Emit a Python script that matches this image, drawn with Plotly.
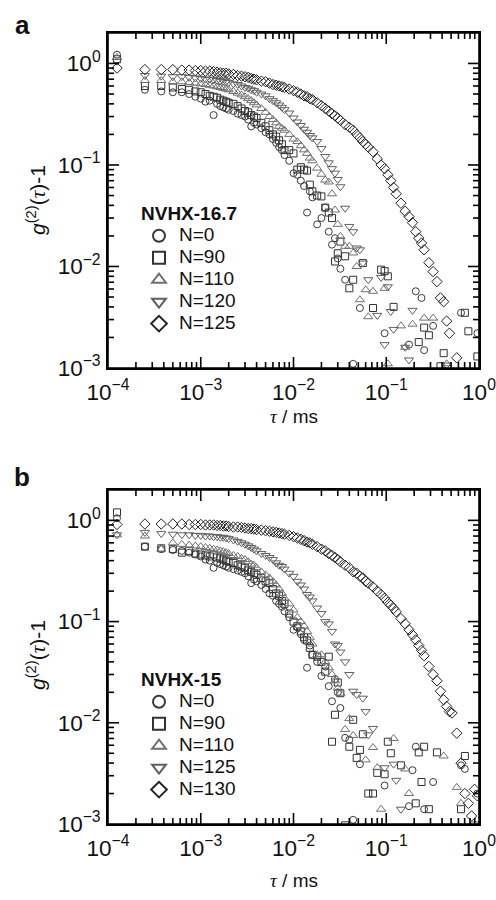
import plotly.graph_objects as go

# ---------------- data ----------------
tau = [
    0.000125, 0.00025, 0.000375, 0.0005, 0.000625, 0.00075, 0.000875, 0.001,
    0.001125, 0.00125, 0.001375, 0.0015, 0.001625, 0.00175, 0.001875, 0.002,
    0.00225, 0.0025, 0.00275, 0.003, 0.00325, 0.0035, 0.00375, 0.004,
    0.0045, 0.005, 0.0055, 0.006, 0.0065, 0.007, 0.0075, 0.008,
    0.009, 0.010, 0.011, 0.012, 0.013, 0.014, 0.015, 0.016,
    0.018, 0.020, 0.022, 0.024, 0.026, 0.028, 0.030, 0.032,
    0.036, 0.040, 0.044, 0.048, 0.052, 0.056, 0.060, 0.064,
    0.072, 0.080, 0.088, 0.096, 0.104, 0.112, 0.120, 0.128,
    0.144, 0.160, 0.176, 0.192, 0.208, 0.224, 0.240, 0.256,
    0.288, 0.320, 0.352, 0.384, 0.416, 0.448, 0.480, 0.512,
    0.576, 0.640, 0.704, 0.768, 0.832, 0.896, 0.960,
]
N = None

# panel a : NVHX-16.7
a_n0 = [
    1.22, 0.55, 0.53, 0.52, 0.52, 0.50, 0.47, 0.45, 0.42, 0.43, 0.31, 0.40, 0.38, 0.37, 0.36, 0.35,
    0.34, 0.32, 0.31, 0.30, 0.28, 0.24, 0.26, 0.25,
    0.23, 0.21, 0.20, 0.18, 0.165, 0.15, 0.14, 0.125,
    0.11, 0.083, 0.08, 0.07, 0.062, 0.034, 0.055, 0.048,
    0.026, 0.030, 0.038, 0.022, 0.0164, 0.019, 0.012, 0.0095,
    0.0074, N, 0.0011, N, 0.0039, N, N, N,
    N, N, N, 0.0022, N, N, N, N,
    N, N, 0.0017, N, 0.0057, N, 0.0049, 0.0015,
    N, 0.0026, N, N, N, N, N, N,
    N, 0.0035, N, N, N, N, 0.0022,
]
a_n90 = [
    1.10, 0.60, 0.60, 0.58, 0.56, 0.55, 0.53, 0.52, 0.50, 0.48, 0.47, 0.46, 0.44, 0.43, 0.42, 0.41,
    0.40, 0.38, 0.36, 0.34, 0.33, 0.31, 0.30, 0.29,
    0.26, 0.24, 0.22, 0.20, 0.19, 0.175, 0.16, 0.14,
    0.14, 0.13, 0.09, 0.095, 0.09, 0.088, 0.064, 0.055,
    0.05, 0.049, 0.038, 0.034, 0.030, 0.0112, 0.0135, 0.0176,
    0.0126, 0.0061, 0.0074, N, N, 0.0108, N, N,
    0.0039, N, 0.0093, 0.0090, 0.0080, N, 0.0040, N,
    N, N, N, N, N, 0.0018, N, 0.0025,
    0.0021, N, N, 0.00104, 0.0014, N, N, N,
    N, N, 0.0035, 0.0023, N, N, 0.0013,
]
a_n110 = [
    1.15, 0.68, 0.68, 0.66, 0.66, 0.65, 0.64, 0.63, 0.62, 0.61, 0.60, 0.59, 0.58, 0.57, 0.56, 0.55,
    0.53, 0.51, 0.49, 0.47, 0.45, 0.43, 0.41, 0.39,
    0.36, 0.33, 0.30, 0.28, 0.26, 0.24, 0.23, 0.22,
    0.20, 0.18, 0.17, 0.155, 0.141, 0.13, 0.117, 0.11,
    0.093, 0.081, 0.071, 0.068, 0.052, 0.036, 0.026, 0.0198,
    0.0158, 0.0158, 0.0136, 0.010, 0.0047, N, 0.0059, 0.0032,
    0.0057, N, N, 0.0061, 0.0011, N, N, N,
    0.0026, 0.0016, N, 0.0027, N, N, N, 0.0031,
    N, 0.0031, N, N, N, 0.0011, N, N,
    N, N, N, N, N, N, N,
]
a_n120 = [
    1.05, 0.76, 0.75, 0.74, 0.74, 0.73, 0.72, 0.71, 0.70, 0.70, 0.69, 0.68, 0.67, 0.67, 0.66, 0.65,
    0.63, 0.62, 0.60, 0.58, 0.57, 0.55, 0.54, 0.52,
    0.50, 0.48, 0.45, 0.43, 0.41, 0.39, 0.37, 0.35,
    0.325, 0.29, 0.265, 0.245, 0.225, 0.21, 0.195, 0.185,
    0.17, 0.145, 0.121, 0.105, 0.092, 0.083, 0.072, 0.061,
    0.0375, 0.0248, 0.022, 0.0152, 0.0146, 0.0108, N, 0.0074,
    N, 0.0033, 0.0078, 0.0017, 0.0063, 0.0036, 0.0024, N,
    N, 0.0016, 0.0012, 0.0037, N, N, N, N,
    N, N, N, N, N, 0.00107, N, N,
    N, N, N, N, N, N, N,
]
a_n125 = [
    0.90, 0.87, 0.87, 0.87, 0.86, 0.86, 0.85, 0.85, 0.84, 0.84, 0.83, 0.82, 0.81, 0.80, 0.80, 0.79,
    0.78, 0.76, 0.75, 0.74, 0.73, 0.71, 0.70, 0.69,
    0.67, 0.66, 0.64, 0.62, 0.61, 0.60, 0.59, 0.58,
    0.56, 0.54, 0.52, 0.50, 0.48, 0.47, 0.45, 0.44,
    0.41, 0.385, 0.36, 0.34, 0.32, 0.305, 0.29, 0.275,
    0.25, 0.235, 0.22, 0.20, 0.185, 0.17, 0.16, 0.15,
    0.135, 0.115, 0.10, 0.092, 0.08, 0.07, 0.06, 0.052,
    0.042, 0.035, 0.031, 0.027, 0.022, 0.019, 0.017, 0.0146,
    0.0109, 0.0089, 0.0071, 0.0049, 0.0045, 0.0029, 0.0022, N,
    0.00126, N, N, N, N, N, N,
]

# panel b : NVHX-15
b_n0 = [
    1.05, 0.55, 0.52, 0.51, 0.50, 0.48, 0.46, 0.44, 0.41, 0.40, 0.34, 0.38, 0.37, 0.36, 0.35, 0.34,
    0.33, 0.32, 0.31, 0.30, 0.28, 0.24, 0.26, 0.25,
    0.23, 0.21, 0.19, 0.18, 0.16, 0.15, 0.14, 0.126,
    0.11, 0.083, 0.088, 0.075, 0.066, 0.035, 0.058, 0.047,
    0.040, 0.029, 0.036, 0.023, 0.0163, 0.027, 0.020, 0.014,
    0.0071, 0.0068, 0.0011, N, 0.0039, N, N, N,
    N, N, N, 0.0024, N, N, N, N,
    N, N, 0.0015, 0.0034, 0.0058, N, N, 0.0014,
    N, 0.0026, N, N, N, N, N, N,
    N, 0.0038, 0.0035, N, N, N, 0.0020,
]
b_n90 = [
    1.20, 0.55, 0.53, 0.52, 0.48, 0.50, 0.47, 0.46, 0.45, 0.44, 0.46, 0.43, 0.42, 0.41, 0.40, 0.39,
    0.38, 0.36, 0.35, 0.34, 0.32, 0.31, 0.30, 0.29,
    0.27, 0.25, 0.24, 0.21, 0.19, 0.18, 0.16, 0.15,
    0.12, 0.10, 0.09, 0.08, 0.07, 0.065, 0.055, 0.047,
    0.045, 0.040, 0.032, 0.045, 0.0065, 0.012, 0.025, 0.0196,
    0.00097, 0.0058, 0.0107, 0.0045, 0.0054, 0.0077, N, 0.0020,
    0.0020, 0.0032, N, 0.0031, 0.0065, 0.0050, N, N,
    0.0038, N, N, N, 0.0016, 0.0051, 0.0026, 0.0058,
    0.0014, N, 0.0051, N, N, N, N, N,
    N, 0.0014, 0.0047, N, N, N, N,
]
b_n110 = [
    0.72, 0.70, 0.52, 0.60, 0.58, 0.57, 0.56, 0.55, 0.54, 0.53, 0.52, 0.51, 0.50, 0.49, 0.48, 0.47,
    0.45, 0.44, 0.42, 0.41, 0.39, 0.37, 0.36, 0.34,
    0.31, 0.29, 0.27, 0.25, 0.23, 0.21, 0.19, 0.17,
    0.15, 0.13, 0.11, 0.10, 0.09, 0.08, 0.07, 0.06,
    0.047, 0.047, 0.040, 0.035, 0.030, 0.026, 0.022, 0.0196,
    0.0086, 0.011, 0.0075, N, N, N, 0.0043, N,
    0.0057, 0.0036, 0.0014, N, N, N, 0.0070, N,
    N, 0.0035, 0.0020, N, N, N, N, N,
    N, N, N, N, 0.0047, N, N, N,
    0.0023, 0.0016, N, N, N, N, N,
]
b_n125 = [
    0.72, 0.76, 0.74, 0.73, 0.72, 0.72, 0.71, 0.71, 0.70, 0.70, 0.69, 0.69, 0.68, 0.68, 0.67, 0.66,
    0.64, 0.62, 0.60, 0.58, 0.56, 0.54, 0.52, 0.50,
    0.47, 0.45, 0.43, 0.41, 0.38, 0.36, 0.35, 0.33,
    0.30, 0.28, 0.25, 0.23, 0.21, 0.185, 0.175, 0.16,
    0.136, 0.12, 0.10, 0.095, 0.08, 0.06, 0.058, 0.050,
    0.040, 0.030, 0.0205, 0.019, N, 0.0175, 0.0129, 0.0076,
    0.0088, N, N, 0.0036, N, N, 0.0039, 0.0027,
    0.0014, N, N, N, N, N, N, N,
    N, N, N, N, N, N, N, N,
    N, N, N, N, N, 0.0010, N,
]
b_n130 = [
    0.91, 0.92, 0.92, 0.92, 0.92, 0.91, 0.91, 0.91, 0.90, 0.90, 0.90, 0.89, 0.89, 0.88, 0.88, 0.87,
    0.86, 0.86, 0.85, 0.84, 0.83, 0.83, 0.82, 0.81,
    0.80, 0.79, 0.78, 0.77, 0.76, 0.75, 0.74, 0.73,
    0.71, 0.69, 0.67, 0.65, 0.63, 0.61, 0.60, 0.58,
    0.55, 0.52, 0.50, 0.47, 0.45, 0.43, 0.41, 0.39,
    0.36, 0.34, 0.31, 0.30, 0.28, 0.27, 0.25, 0.24,
    0.22, 0.20, 0.185, 0.17, 0.155, 0.145, 0.135, 0.125,
    0.107, 0.095, 0.083, 0.074, 0.066, 0.058, 0.052, 0.046,
    0.036, 0.030, 0.026, 0.0205, 0.0169, 0.0145, 0.0129, 0.0125,
    0.0079, 0.0040, 0.0020, 0.0016, 0.0012, 0.0022, 0.0019,
]

labels_a = ["N=0", "N=90", "N=110", "N=120", "N=125"]
labels_b = ["N=0", "N=90", "N=110", "N=125", "N=130"]
legend_title_a = "NVHX-16.7"
legend_title_b = "NVHX-15"
# log-axis tick label text (plotly writes 10^0 as "1", so it is aliased)
tick_alias = {"1": "10<sup>0</sup>"}
x_major = [1e-4, 1e-3, 1e-2, 1e-1, 1e0]
y_major = [1e-3, 1e-2, 1e-1, 1e0]
minor_mult = [2, 3, 4, 5, 6, 7, 8, 9]
x_decades = [1e-4, 1e-3, 1e-2, 1e-1]
y_decades = [1e-3, 1e-2, 1e-1]

# ---------------- styling ----------------
symbols = ["circle-open", "square-open", "triangle-up-open", "triangle-down-open", "diamond-open"]
colors = ["#3a3a3a", "#333333", "#707070", "#606060", "#222222"]
sizes = [7, 7, 8, 8, 8]
FONT = "Arial, Liberation Sans, Helvetica, sans-serif"
MAJ, MIN, TW = 11, 6, 1.6

W, H = 496, 900
xdom = [108 / W, 479 / W]
ydom_a = [1 - 368 / H, 1 - 33 / H]
ydom_b = [1 - 824 / H, 1 - 490 / H]

fig = go.Figure()
for i, (lab, ys) in enumerate(zip(labels_a, [a_n0, a_n90, a_n110, a_n120, a_n125])):
    fig.add_trace(go.Scatter(
        x=tau, y=ys, mode="markers", name='<span style="font-size:19px">%s</span>' % lab,
        marker=dict(symbol=symbols[i], size=sizes[i], color=colors[i], line=dict(width=1, color=colors[i])),
        xaxis="x", yaxis="y", legend="legend", showlegend=True))
for i, (lab, ys) in enumerate(zip(labels_b, [b_n0, b_n90, b_n110, b_n125, b_n130])):
    fig.add_trace(go.Scatter(
        x=tau, y=ys, mode="markers", name='<span style="font-size:19px">%s</span>' % lab,
        marker=dict(symbol=symbols[i], size=sizes[i], color=colors[i], line=dict(width=1, color=colors[i])),
        xaxis="x2", yaxis="y2", legend="legend2", showlegend=True))

def common_axis():
    return dict(type="log", tickmode="linear", tick0=0, dtick=1,
                exponentformat="power", labelalias=tick_alias, ticks="",
                showline=True, linecolor="black", linewidth=1.5, mirror=True,
                showgrid=False, zeroline=False, automargin=False,
                ticklabeloverflow="allow",
                tickfont=dict(family=FONT, size=18, color="#111"))

def xaxis(anchor):
    d = common_axis()
    d.update(range=[-4, 0], domain=xdom, anchor=anchor, ticklabelstandoff=4)
    return d

def yaxis(anchor, dom):
    d = common_axis()
    d.update(range=[-3, 0.3], domain=dom, anchor=anchor, ticklabelstandoff=2)
    return d

# inward tick marks on all four sides, placed through the axes' own scales, plus the frame
def tick_shapes(xr, yr, ydom):
    out = []
    line = dict(color="#000000", width=TW)
    xt = [(v, MAJ) for v in x_major[1:-1]] + [(m * d, MIN) for d in x_decades for m in minor_mult]
    yt = [(v, MAJ) for v in y_major[1:]] + [(m * d, MIN) for d in y_decades for m in minor_mult]
    for v, L in xt:
        out.append(dict(type="line", xref=xr, yref="paper", x0=v, x1=v,
                        y0=ydom[0], y1=ydom[0] + L / H, line=line, layer="above"))
        out.append(dict(type="line", xref=xr, yref="paper", x0=v, x1=v,
                        y0=ydom[1], y1=ydom[1] - L / H, line=line, layer="above"))
    for v, L in yt:
        out.append(dict(type="line", yref=yr, xref="paper", y0=v, y1=v,
                        x0=xdom[0], x1=xdom[0] + L / W, line=line, layer="above"))
        out.append(dict(type="line", yref=yr, xref="paper", y0=v, y1=v,
                        x0=xdom[1], x1=xdom[1] - L / W, line=line, layer="above"))
    out.append(dict(type="rect", xref="paper", yref="paper", x0=xdom[0], x1=xdom[1],
                    y0=ydom[0], y1=ydom[1], line=dict(color="#000000", width=1.6),
                    fillcolor="rgba(0,0,0,0)", layer="above"))
    return out

def legend(title, ytop):
    return dict(title=dict(text="<b>%s</b>" % title,
                           font=dict(family=FONT, size=19, color="#111")),
                x=139 / W, y=1 - ytop / H, xanchor="left", yanchor="top",
                bgcolor="rgba(0,0,0,0)", borderwidth=0, itemsizing="constant",
                font=dict(family=FONT, size=14.6, color="#111"), tracegroupgap=0)

ytitle = '<i>g</i><sup>(2)</sup>(<span style="font-family:Liberation Serif, serif"><i>\u03c4</i></span>)-1'
xtitle = '<span style="font-family:Liberation Serif, serif"><i>\u03c4</i></span> / ms'

ann = []
for lab, yc in [("a", 25), ("b", 477)]:
    ann.append(dict(text="<b>%s</b>" % lab, x=22 / W, y=1 - yc / H, xref="paper", yref="paper",
                    xanchor="center", yanchor="middle", showarrow=False,
                    font=dict(family=FONT, size=26, color="#111")))
for yc in [200, 655]:
    ann.append(dict(text=ytitle, x=36 / W, y=1 - yc / H, xref="paper", yref="paper",
                    xanchor="center", yanchor="middle", textangle=-90, showarrow=False,
                    font=dict(family=FONT, size=21, color="#111")))
for yc in [416, 880]:
    ann.append(dict(text=xtitle, x=294 / W, y=1 - yc / H, xref="paper", yref="paper",
                    xanchor="center", yanchor="middle", showarrow=False,
                    font=dict(family=FONT, size=19, color="#111")))

fig.update_layout(
    width=W, height=H, margin=dict(l=0, r=0, t=0, b=0, autoexpand=False),
    paper_bgcolor="white", plot_bgcolor="white",
    font=dict(family=FONT, color="#111"),
    xaxis=xaxis("y"), yaxis=yaxis("x", ydom_a),
    xaxis2=xaxis("y2"), yaxis2=yaxis("x2", ydom_b),
    legend=legend(legend_title_a, 195),
    legend2=legend(legend_title_b, 661),
    annotations=ann,
    shapes=tick_shapes("x", "y", ydom_a) + tick_shapes("x2", "y2", ydom_b),
    showlegend=True,
)

fig.write_html("out.html", config={"displayModeBar": False},
               post_script="document.body.style.margin='0px';document.body.style.overflow='hidden';")
